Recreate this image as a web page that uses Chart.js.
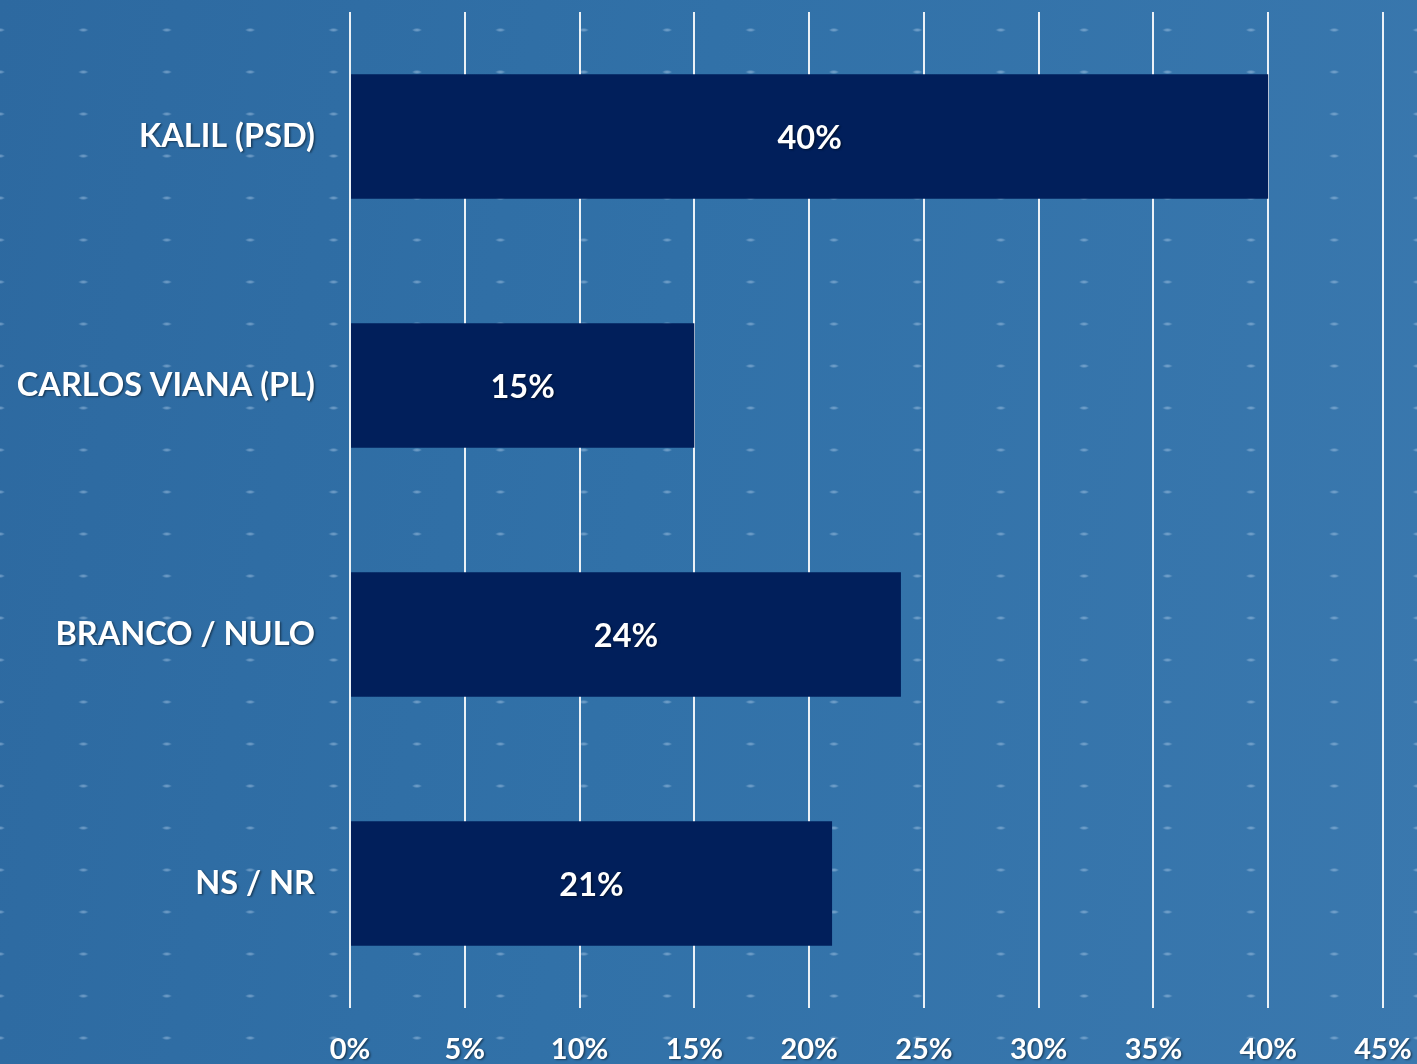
<!DOCTYPE html>
<html>
<head>
<meta charset="utf-8">
<script src="https://cdn.jsdelivr.net/npm/chart.js@4"></script>
<style>
  html, body { margin: 0; padding: 0; }
  body {
    width: 1417px; height: 1064px; overflow: hidden;
    background-color: #3070a6;
    background-image:
      radial-gradient(ellipse 5px 2px at 50% 50%, rgba(190,215,240,0.5) 0%, rgba(190,215,240,0.28) 60%, rgba(190,215,240,0) 100%),
      linear-gradient(100deg, #2d69a0 0%, #3171a8 45%, #3a78ae 100%);
    background-size: 83.4px 42px, 100% 100%;
    background-position: -41.7px 9px, 0 0;
  }
  .box { position: relative; width: 1417px; height: 1064px; }
</style>
</head>
<body>
<div class="box"><canvas id="myChart"></canvas></div>
<script>
    var categories = ["KALIL (PSD)", "CARLOS VIANA (PL)", "BRANCO / NULO", "NS / NR"];
    var values = [40, 15, 24, 21];
    var tickStep = 5;
    var tickMax = 45;

    var fontFamily = "Lato, 'Open Sans', sans-serif";

    function setShadow(ctx){
      ctx.shadowColor = "rgba(0,0,0,0.45)";
      ctx.shadowOffsetX = 1.5;
      ctx.shadowOffsetY = 1.5;
      ctx.shadowBlur = 2;
    }

    // labels inside the bars, then shadow on for the tick labels (drawn after datasets)
    var barLabels = {
      id: 'barLabels',
      afterDatasetsDraw: function(chart){
        var ctx = chart.ctx;
        var meta = chart.getDatasetMeta(0);
        ctx.save();
        ctx.font = "bold 32.5px " + fontFamily;
        ctx.fillStyle = "#ffffff";
        ctx.textAlign = "center";
        ctx.textBaseline = "middle";
        setShadow(ctx);
        meta.data.forEach(function(bar, i){
          var x = (bar.x + bar.base) / 2;
          ctx.fillText(values[i] + "%", x, bar.y + 2);
        });
        ctx.restore();
        setShadow(ctx);
      },
      afterDraw: function(chart){
        var ctx = chart.ctx;
        ctx.shadowColor = "rgba(0,0,0,0)";
        ctx.shadowOffsetX = 0;
        ctx.shadowOffsetY = 0;
        ctx.shadowBlur = 0;
      }
    };

    function noPad(axis){
      axis.paddingTop = 0;
      axis.paddingBottom = 0;
      axis.paddingLeft = 0;
      axis.paddingRight = 0;
    }

    new Chart("myChart", {
      type: "bar",
      data: {
        labels: categories,
        datasets: [{
          backgroundColor: "#011f5b",
          data: values,
          categoryPercentage: 1.0,
          barPercentage: 0.5
        }]
      },
      options: {
        indexAxis: 'y',
        responsive: true,
        maintainAspectRatio: false,
        animation: false,
        layout: { padding: { top: 12, right: 34, left: 0, bottom: 0 } },
        plugins: {
          legend: { display: false },
          tooltip: { enabled: false }
        },
        scales: {
          x: {
            min: 0,
            max: tickMax,
            ticks: {
              stepSize: tickStep,
              color: "#ffffff",
              padding: 24,
              z: 1,
              font: { family: fontFamily, size: 29, weight: "bold" },
              callback: function(v){ return v + "%"; }
            },
            grid: { color: "rgba(255,255,255,0.9)", lineWidth: 2, drawTicks: false },
            border: { display: false },
            afterFit: function(axis){ axis.height = 56; noPad(axis); }
          },
          y: {
            ticks: {
              color: "#ffffff",
              padding: 35,
              z: 1,
              font: { family: fontFamily, size: 32.5, weight: "bold" }
            },
            grid: { display: false, drawTicks: false },
            border: { display: false },
            afterFit: function(axis){ axis.width = 350; noPad(axis); }
          }
        }
      },
      plugins: [barLabels]
    });
</script>
</body>
</html>
